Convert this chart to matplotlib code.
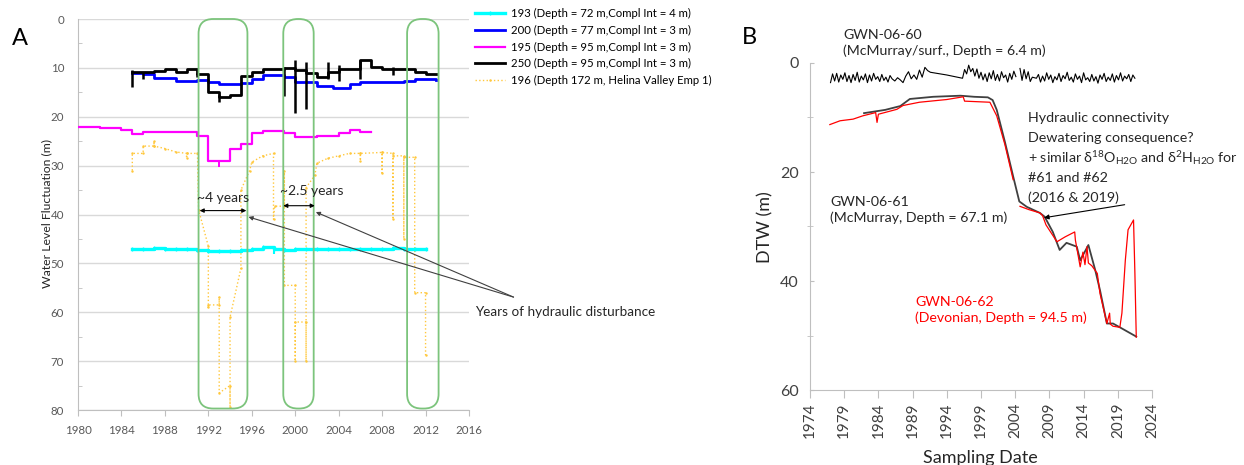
import matplotlib
matplotlib.use('Agg')
from matplotlib import pyplot as plt
from matplotlib.patches import FancyBboxPatch

plt.rcParams['font.family'] = ['Lato', 'DejaVu Sans']
plt.rcParams['mathtext.fontset'] = 'custom'
plt.rcParams['mathtext.rm'] = 'Lato'
plt.rcParams['mathtext.it'] = 'Lato:italic'
plt.rcParams['mathtext.bf'] = 'Lato:bold'
plt.rcParams['mathtext.fallback'] = 'stix'

# ---------------- panel A data (water level, m) ----------------
well193_years = [1985, 1986, 1987, 1988, 1989, 1990, 1991, 1992, 1993, 1994, 1995, 1996, 1997, 1998,
                 1999, 2000, 2001, 2002, 2003, 2004, 2005, 2006, 2007, 2008, 2009, 2010, 2011, 2012]
well193_level = [47.0, 47.0, 46.9, 47.0, 47.0, 47.1, 47.2, 47.5, 47.4, 47.5, 47.2, 47.0, 46.6, 47.1,
                 47.2, 47.1, 47.0, 47.1, 47.0, 47.1, 47.0, 47.0, 47.0, 47.0, 46.9, 47.0, 47.0, 47.0]

well200_years = [1985, 1986, 1987, 1989, 1991, 1992, 1993, 1995, 1996, 1997, 1999, 2000, 2002, 2003.5,
                 2005, 2006, 2008, 2010, 2011, 2013]
well200_level = [11.0, 11.3, 12.0, 12.6, 12.5, 12.8, 13.4, 13.1, 12.3, 11.5, 11.9, 12.8, 13.7, 14.1,
                 13.3, 12.8, 12.9, 12.6, 12.2, 12.5]

well195_years = [1980, 1982, 1984, 1985, 1986, 1989, 1991, 1992, 1994, 1995, 1996, 1997, 1999, 2000,
                 2002, 2004, 2005, 2006, 2007]
well195_level = [22.0, 22.3, 22.8, 23.5, 23.1, 23.2, 24.0, 29.0, 26.6, 25.5, 23.3, 22.9, 23.3, 24.2,
                 23.9, 23.4, 22.8, 23.2, 23.2]

well250_years = [1985, 1986, 1987, 1988, 1989, 1990, 1991, 1992, 1993, 1994, 1995, 1996, 1997, 1999,
                 2000, 2001, 2002, 2003, 2004, 2006, 2007, 2008, 2011, 2012, 2013]
well250_level = [10.9, 10.8, 10.6, 10.3, 10.8, 10.3, 11.2, 14.9, 15.9, 15.6, 11.7, 10.8, 10.3, 10.0,
                 10.5, 11.0, 11.9, 10.8, 10.3, 8.3, 9.9, 10.3, 10.8, 11.3, 11.3]
well250_spike_year = [1985, 1986, 1991, 1993, 1999, 2000, 2001, 2003, 2004, 2006, 2009]
well250_spike_lo = [10.5, 10.8, 11.0, 15.5, 9.8, 8.3, 8.7, 8.7, 9.5, 8.3, 9.9]
well250_spike_hi = [14.0, 12.3, 11.9, 17.0, 15.8, 19.3, 18.4, 12.2, 12.6, 12.3, 11.4]

well196_years = [1985, 1985, 1986, 1986, 1987, 1987, 1987, 1988, 1989, 1990, 1990, 1990, 1991, 1991.1,
                 1992, 1992, 1992, 1993, 1993, 1993, 1994, 1994, 1994, 1995, 1995, 1995.8, 1996, 1997,
                 1998, 1998, 1998.1, 1999, 1999, 1999, 2000, 2000, 2000, 2001, 2001, 2001, 2001.8, 2002,
                 2003, 2004, 2005, 2006, 2006, 2006, 2008, 2008, 2008, 2009, 2009, 2009, 2010, 2010,
                 2010, 2011, 2011, 2012, 2012]
well196_level = [31.0, 27.5, 27.5, 26.0, 26.0, 25.0, 26.0, 26.5, 27.2, 27.5, 28.5, 27.5, 27.5, 39.0,
                 46.5, 59.0, 58.5, 58.5, 56.8, 76.5, 75.0, 79.3, 61.0, 51.0, 35.0, 31.0, 29.3, 28.0,
                 27.5, 41.0, 38.3, 38.3, 31.0, 54.5, 54.5, 70.0, 62.0, 62.0, 70.0, 34.5, 32.0, 29.5,
                 28.5, 28.0, 27.5, 27.5, 29.0, 27.5, 27.3, 31.5, 27.3, 27.5, 41.0, 28.0, 28.0, 45.0,
                 28.3, 28.3, 56.0, 56.0, 68.8]

legend_labels = ['193 (Depth = 72 m,Compl Int = 4 m)',
                 '200 (Depth = 77 m,Compl Int = 3 m)',
                 '195 (Depth = 95 m,Compl Int = 3 m)',
                 '250 (Depth = 95 m,Compl Int = 3 m)',
                 '196 (Depth 172 m, Helina Valley Emp 1)']

# disturbance windows (years)
window_start = [1991.1, 1998.9, 2010.3]
window_end = [1995.6, 2001.7, 2013.2]

# ---------------- panel B data (DTW, m) ----------------
gwn60_dates = [1977.0, 1977.3, 1977.6, 1977.9, 1978.2, 1978.5, 1978.8, 1979.1, 1979.4, 1979.7,
               1980.0, 1980.3, 1980.6, 1980.9, 1981.2, 1981.5, 1981.8, 1982.1, 1982.4, 1982.7,
               1983.0, 1983.3, 1983.6, 1983.9, 1984.2, 1984.5, 1984.8, 1985.1, 1985.4, 1985.7,
               1986.0, 1986.4, 1986.8, 1987.2, 1987.6, 1988.0, 1988.4, 1988.8, 1989.2, 1989.6,
               1990.0, 1990.4, 1990.8, 1991.2, 1991.6, 1994.0, 1996.3,
               1996.6, 1996.9, 1997.2, 1997.5, 1997.8, 1998.1, 1998.4, 1998.7, 1999.0, 1999.3,
               1999.6, 1999.9, 2000.2, 2000.5, 2000.8, 2001.1, 2001.4, 2001.7, 2002.0, 2002.3,
               2002.6, 2002.9, 2003.2, 2003.5, 2003.8, 2004.1,
               2004.4,
               2004.7, 2005.0, 2005.3, 2005.6, 2005.9, 2006.2, 2006.5, 2006.8, 2007.1, 2007.4,
               2007.7, 2008.0, 2008.3, 2008.6, 2008.9, 2009.2, 2009.5, 2009.8, 2010.1, 2010.4,
               2010.7, 2011.0, 2011.3, 2011.6, 2011.9, 2012.2, 2012.5, 2012.8, 2013.1, 2013.4,
               2013.7, 2014.0, 2014.3, 2014.6, 2014.9, 2015.2, 2015.5, 2015.8, 2016.1, 2016.4,
               2016.7, 2017.0, 2017.3, 2017.6, 2017.9, 2018.2, 2018.5, 2018.8, 2019.1, 2019.4,
               2019.7, 2020.0, 2020.3, 2020.6, 2020.9, 2021.2, 2021.5]
gwn60_dtw = [3.6, 2.0, 3.3, 1.9, 3.5, 2.2, 3.0, 1.8, 3.4, 2.3,
             3.6, 2.1, 3.2, 1.7, 3.5, 2.4, 3.1, 2.0, 3.6, 2.2,
             3.3, 1.9, 3.0, 2.5, 3.4, 2.1, 3.2, 2.6, 3.5, 2.3,
             2.9, 3.3, 2.7, 3.1, 3.6, 2.4, 1.6, 2.9, 2.2, 3.0,
             1.3, 2.6, 0.8, 1.4, 1.7, 2.2, 2.8,
             1.2, 2.0, 0.4, 1.6, 1.0, 2.4, 1.1, 2.8, 1.7, 3.1,
             2.0, 3.4, 1.8, 2.9, 1.4, 3.2, 2.1, 3.3, 1.6, 2.7,
             2.2, 3.5, 1.9, 3.0, 1.5, 2.5,
             float('nan'),
             1.0, 3.2, 1.2, 2.9, 1.6, 3.4, 2.6, 2.7, 2.8, 2.1,
             3.5, 2.4, 3.3, 1.8, 3.0, 2.2, 3.6, 2.5, 3.1, 1.9,
             3.4, 2.3, 2.9, 1.7, 3.2, 2.6, 3.5, 2.0, 3.0, 2.4,
             3.6, 1.8, 3.1, 2.7, 3.4, 2.1, 3.3, 2.5, 3.7, 2.2,
             3.0, 1.9, 3.4, 2.6, 3.2, 2.0, 3.5, 2.3, 3.1, 1.8,
             3.3, 2.4, 2.9, 2.1, 3.4, 2.2, 2.8]

gwn61_dates = [1981.9, 1985.0, 1987.2, 1988.6, 1992.0, 1996.0, 1998.0, 2000.0, 2000.7, 2001.3,
               2002.5, 2003.7, 2004.6, 2005.7, 2007.6, 2008.3, 2009.5, 2010.5, 2011.5, 2013.0,
               2013.5, 2014.7, 2015.7, 2016.4, 2017.4, 2018.3, 2019.3, 2021.7]
gwn61_dtw = [9.2, 8.6, 7.9, 6.6, 6.2, 6.0, 6.2, 6.3, 6.8, 8.6,
             14.5, 20.8, 25.4, 26.4, 27.5, 28.2, 31.0, 34.3, 33.0, 33.7,
             36.2, 33.4, 38.0, 41.7, 47.8, 47.8, 48.5, 50.2]

gwn62_dates = [1976.9, 1978.4, 1980.3, 1981.7, 1983.6, 1983.8, 1984.0, 1986.7, 1987.6, 1990.0,
               1994.0, 1996.4, 1996.6, 2000.3, 2001.3, 2002.5, 2003.7,
               2004.2,
               2004.7, 2006.0, 2007.6, 2008.0, 2008.5, 2010.1, 2011.3, 2012.7, 2012.8, 2013.5,
               2013.9, 2014.2, 2014.5, 2014.7, 2015.2, 2016.0, 2016.4, 2017.4, 2017.8, 2017.9,
               2018.3, 2019.3, 2019.6, 2020.1, 2020.5, 2021.3, 2021.5, 2021.7]
gwn62_dtw = [11.3, 10.6, 10.3, 9.7, 9.1, 10.9, 9.4, 8.5, 7.8, 7.2,
             6.7, 6.2, 7.0, 7.2, 9.7, 15.0, 21.4,
             float('nan'),
             26.3, 26.9, 27.5, 28.0, 29.7, 32.8, 31.9, 31.0, 32.5, 37.4,
             34.7, 37.0, 33.7, 36.7, 37.2, 38.6, 42.3, 47.8, 45.9, 47.9,
             48.3, 48.5, 45.9, 36.2, 30.6, 28.8, 38.6, 50.3]

fig = plt.figure(figsize=(12.44, 4.65), dpi=100)
W, H = 1244, 465

# ======================= panel A =======================
axA = fig.add_axes([78 / W, 1 - 410 / H, 391 / W, 391 / H])
axA.set_xlim(1980, 2016)
axA.set_ylim(80, 0)
axA.set_xticks(range(1980, 2017, 4))
axA.set_yticks(range(0, 81, 10))
axA.set_yticks(range(5, 80, 10), minor=True)
axA.grid(axis='y', color='#d9d9d9', lw=1)
axA.set_axisbelow(True)
for s in ['top', 'right']:
    axA.spines[s].set_visible(False)
for s in ['left', 'bottom']:
    axA.spines[s].set_color('#bfbfbf')
axA.tick_params(axis='x', length=4, color='#bfbfbf', labelcolor='#595959', labelsize=8.3, pad=7)
axA.tick_params(axis='y', which='major', length=0, labelcolor='#595959', labelsize=8.3, pad=10)
axA.tick_params(axis='y', which='minor', length=3, direction='in', color='#bfbfbf')

h193, = axA.step(well193_years, well193_level, where='post', color='#00ffff', lw=2.4,
                 marker='|', ms=3, zorder=3)
axA.vlines([1998], [47.1], [48.0], color='#00ffff', lw=1.5, zorder=3)
h200, = axA.step(well200_years, well200_level, where='post', color='#0000ff', lw=2, zorder=4)
h195, = axA.step(well195_years, well195_level, where='post', color='#ff00ff', lw=1.6, zorder=3)
axA.vlines([1993], [29.0], [30.3], color='#ff00ff', lw=1.4, zorder=3)
h250, = axA.step(well250_years, well250_level, where='post', color='black', lw=2, zorder=4)
axA.vlines(well250_spike_year, well250_spike_lo, well250_spike_hi, color='black', lw=1.8, zorder=4)
h196, = axA.plot(well196_years, well196_level, color='#ffc83d', lw=1, ls=':', marker='.', ms=1.5,
                 zorder=2)

for x0, x1 in zip(window_start, window_end):
    box = FancyBboxPatch((x0, 0), x1 - x0, 79.7, boxstyle='round,pad=0,rounding_size=1.35',
                         mutation_aspect=2.2, fc='none', ec='#7cc47c', lw=1.3, clip_on=False, zorder=5)
    axA.add_patch(box)

axA.annotate('', xy=(1995.5, 39.2), xytext=(1991.2, 39.2),
             arrowprops=dict(arrowstyle='<|-|>', color='black', lw=0.8, mutation_scale=6,
                             shrinkA=0, shrinkB=0), zorder=6)
axA.annotate('', xy=(2001.8, 38.2), xytext=(1998.9, 38.2),
             arrowprops=dict(arrowstyle='<|-|>', color='black', lw=0.8, mutation_scale=6,
                             shrinkA=0, shrinkB=0), zorder=6)
axA.text(1993.35, 36.6, '~4 years', ha='center', va='center', fontsize=10, color='#262626', zorder=6)
axA.text(2001.5, 35.2, '~2.5 years', ha='center', va='center', fontsize=10, color='#262626', zorder=6)
for tx, ty in [(1995.7, 40.5), (2001.9, 39.5)]:
    axA.annotate('', xy=(tx, ty), xytext=(2020.1, 56.9), annotation_clip=False,
                 arrowprops=dict(arrowstyle='-|>', color='#404040', lw=0.8, mutation_scale=6,
                                 shrinkA=0, shrinkB=0), zorder=6)
axA.text(2016.6, 60.0, 'Years of hydraulic disturbance', ha='left', va='center', fontsize=9.7,
         color='#262626')

fig.text(47 / W, 1 - 213 / H, 'Water Level Fluctuation (m)', rotation=90, ha='center', va='center',
         fontsize=8.8, color='#262626')
fig.text(12 / W, 1 - 38 / H, 'A', ha='left', va='center', fontsize=17)

fig.legend([h193, h200, h195, h250, h196], legend_labels, loc='upper left',
           bbox_to_anchor=(475 / W, 1 - 8 / H), frameon=False, fontsize=8.2, handlelength=2.6,
           handletextpad=0.6, labelspacing=0.5, borderpad=0, borderaxespad=0)

# ======================= panel B =======================
axB = fig.add_axes([810 / W, 1 - 390 / H, 342 / W, 327 / H])
axB.set_xlim(1974, 2024)
axB.set_ylim(60, 0)
axB.set_xticks(range(1974, 2025, 5))
axB.set_yticks([0, 20, 40, 60])
axB.set_yticks([10, 30, 50], minor=True)
for s in ['top', 'right']:
    axB.spines[s].set_visible(False)
for s in ['left', 'bottom']:
    axB.spines[s].set_color('#bfbfbf')
axB.tick_params(axis='x', length=6, color='#bfbfbf', labelcolor='#404040', labelsize=11, pad=3,
                labelrotation=90)
axB.tick_params(axis='y', which='major', length=3, direction='in', color='#bfbfbf',
                labelcolor='#404040', labelsize=11.5, pad=8)
axB.tick_params(axis='y', which='minor', length=4, direction='inout', color='#bfbfbf')

axB.plot(gwn61_dates, gwn61_dtw, color='#404040', lw=1.3, zorder=3)
axB.plot(gwn62_dates, gwn62_dtw, color='#ff0000', lw=0.9, zorder=4)
axB.plot(gwn60_dates, gwn60_dtw, color='black', lw=0.8, zorder=3)
axB.annotate('', xy=(2008.2, 28.4), xytext=(2020.0, 26.0), annotation_clip=False,
             arrowprops=dict(arrowstyle='-|>', color='black', lw=0.8, mutation_scale=7,
                             shrinkA=0, shrinkB=0), zorder=6)

fig.text(742 / W, 1 - 37 / H, 'B', ha='left', va='center', fontsize=17)
fig.text(843 / W, 1 - 43 / H, 'GWN-06-60\n(McMurray/surf., Depth = 6.4 m)', ha='left', va='center',
         fontsize=10.2, color='#262626', linespacing=1.35)
fig.text(830 / W, 1 - 210 / H, 'GWN-06-61\n(McMurray, Depth = 67.1 m)', ha='left', va='center',
         fontsize=10.2, color='#262626', linespacing=1.3)
fig.text(915 / W, 1 - 310 / H, 'GWN-06-62\n(Devonian, Depth = 94.5 m)', ha='left', va='center',
         fontsize=10.2, color='#ff0000', linespacing=1.35)
hyd_lines = ['Hydraulic connectivity',
             'Dewatering consequence?',
             r'+ similar $\mathrm{\delta}^{18}$O$_{\mathrm{H2O}}$ and $\mathrm{\delta}^{2}$H$_{\mathrm{H2O}}$ for',
             '#61 and #62',
             '(2016 & 2019)']
for i, line in enumerate(hyd_lines):
    fig.text(1028 / W, 1 - (118 + 20 * i) / H, line, ha='left', va='center', fontsize=10.3,
             color='#262626')

fig.text(765 / W, 1 - 227 / H, 'DTW (m)', rotation=90, ha='center', va='center', fontsize=13,
         color='#262626')
fig.text(980 / W, 1 - 458 / H, 'Sampling Date', ha='center', va='center', fontsize=13,
         color='#262626')

fig.savefig('out.png', dpi=100)
